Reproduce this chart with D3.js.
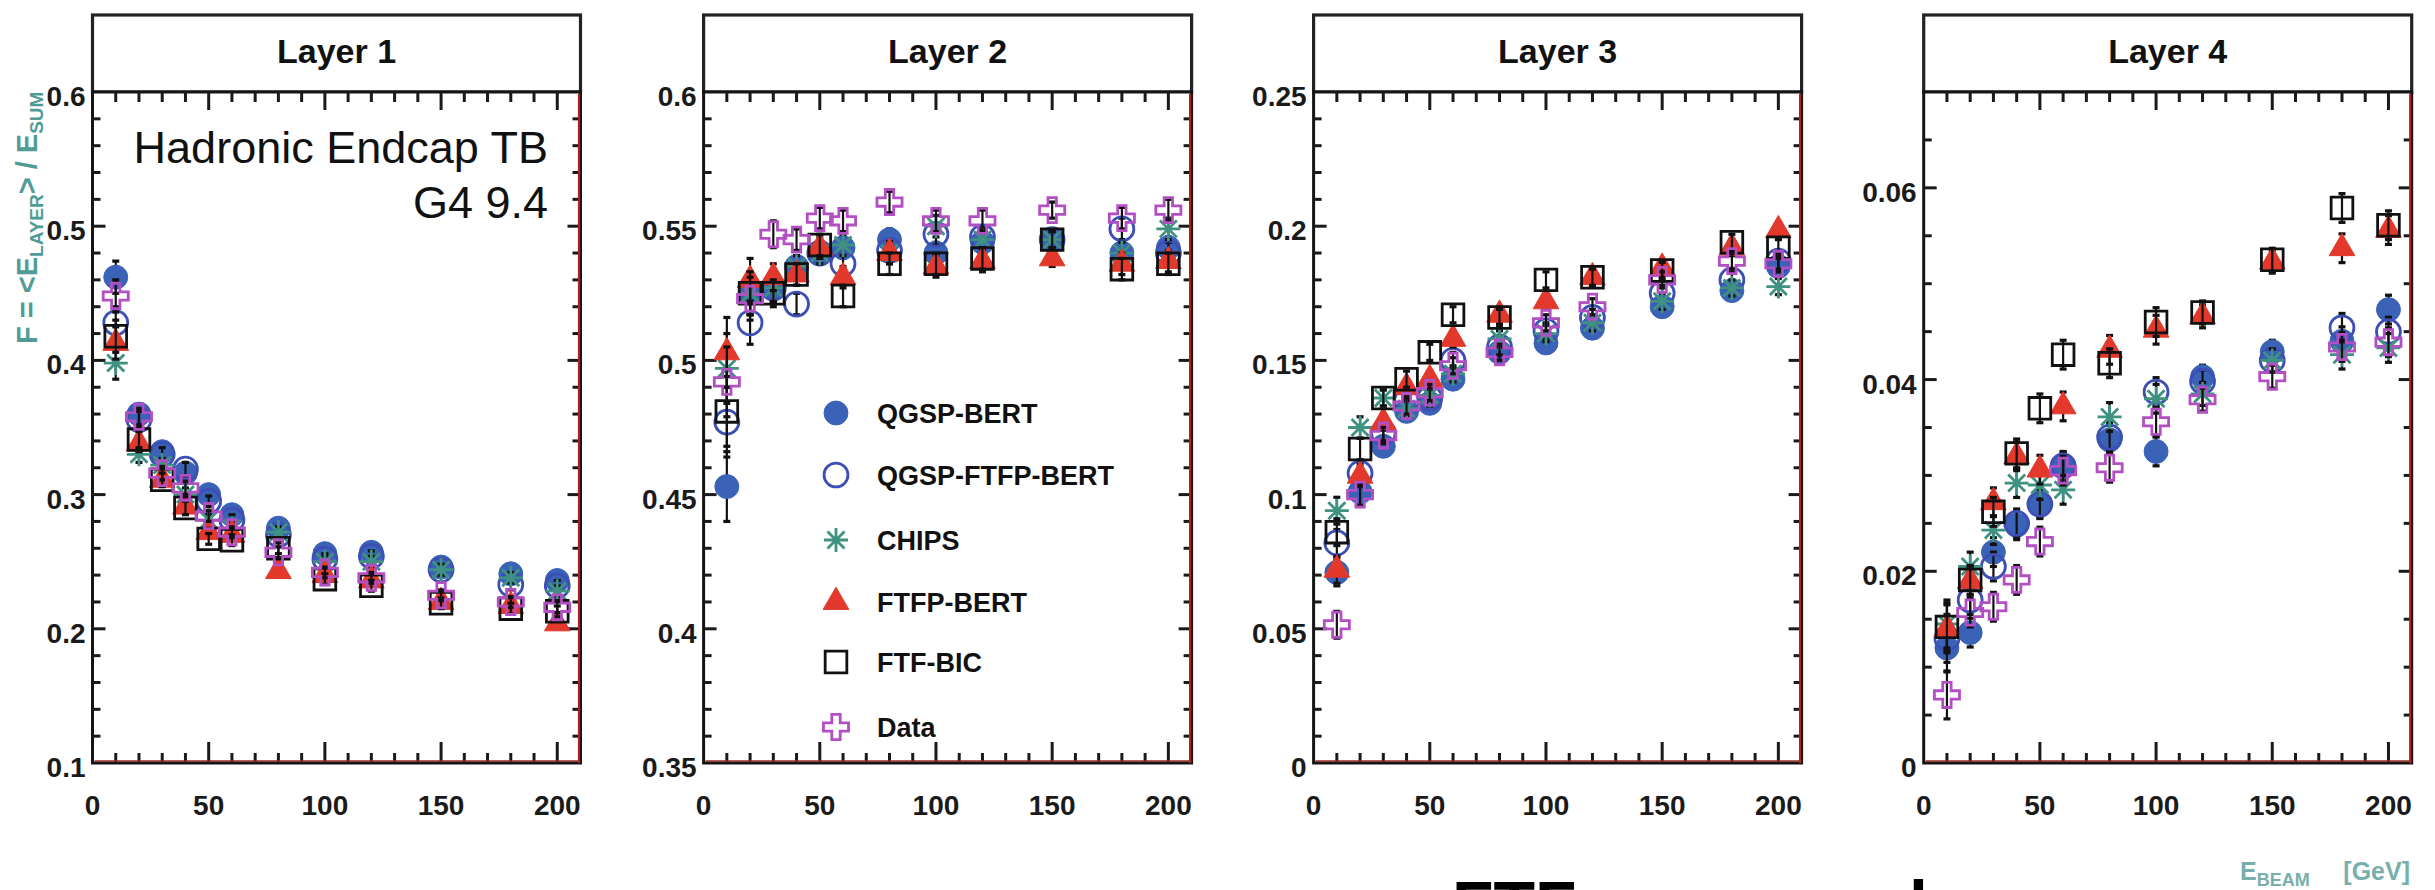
<!DOCTYPE html>
<html>
<head>
<meta charset="utf-8">
<script src="https://cdn.jsdelivr.net/npm/d3@7"></script>
<style>
  html, body { margin: 0; padding: 0; background: #fff; overflow: hidden; }
  svg { display: block; }
  text { font-family: "Liberation Sans", Arial, Helvetica, sans-serif; }
</style>
</head>
<body>
<svg id="chart" width="2435" height="890"></svg>
<script>
// Beam energies (GeV)
const energies = [10, 20, 30, 40, 50, 60, 80, 100, 120, 150, 180, 200];

const layerTitles = ["Layer 1", "Layer 2", "Layer 3", "Layer 4"];
const seriesNames = ["QGSP-BERT", "QGSP-FTFP-BERT", "CHIPS", "FTFP-BERT", "FTF-BIC", "Data"];

// Layer 1 fractions
const layer1QgspBert     = [0.462, 0.360, 0.332, 0.316, 0.300, 0.285, 0.275, 0.256, 0.257, 0.246, 0.241, 0.236];
const layer1QgspFtfpBert = [0.428, 0.356, 0.330, 0.319, 0.295, 0.281, 0.270, 0.252, 0.254, 0.244, 0.233, 0.232];
const layer1Chips        = [0.398, 0.330, 0.322, 0.300, 0.281, 0.275, 0.272, 0.250, 0.250, 0.244, 0.238, 0.228];
const layer1FtfpBert     = [0.413, 0.338, 0.311, 0.291, 0.272, 0.270, 0.243, 0.240, 0.236, 0.220, 0.217, 0.204];
const layer1FtfBic       = [0.418, 0.341, 0.311, 0.290, 0.267, 0.266, 0.260, 0.237, 0.232, 0.219, 0.215, 0.213];
const layer1Data         = [0.448, 0.358, 0.316, 0.305, 0.284, 0.272, 0.257, 0.242, 0.238, 0.225, 0.220, 0.216];
const layer1Errors       = [0.012, 0.006, 0.005, 0.005, 0.004, 0.004, 0.004, 0.004, 0.004, 0.004, 0.004, 0.004];

// Layer 2 fractions
const layer2QgspBert     = [0.453, 0.525, 0.527, 0.535, 0.540, 0.542, 0.545, 0.540, 0.544, 0.545, 0.540, 0.542];
const layer2QgspFtfpBert = [0.477, 0.514, 0.527, 0.521, 0.540, 0.536, 0.541, 0.547, 0.546, 0.545, 0.549, 0.540];
const layer2Chips        = [0.497, 0.525, 0.527, 0.535, 0.540, 0.543, 0.540, 0.550, 0.545, 0.545, 0.540, 0.549];
const layer2FtfpBert     = [0.503, 0.530, 0.531, 0.532, 0.542, 0.531, 0.540, 0.535, 0.537, 0.538, 0.536, 0.537];
const layer2FtfBic       = [0.481, 0.525, 0.525, 0.532, 0.543, 0.524, 0.536, 0.536, 0.538, 0.545, 0.534, 0.536];
const layer2Data         = [0.492, 0.523, 0.547, 0.545, 0.553, 0.552, 0.559, 0.552, 0.552, 0.556, 0.553, 0.556];
const layer2Errors       = [0.013, 0.008, 0.005, 0.004, 0.004, 0.004, 0.004, 0.004, 0.004, 0.003, 0.004, 0.004];

// Layer 3 fractions
const layer3QgspBert     = [0.071, 0.101, 0.118, 0.131, 0.134, 0.143, 0.153, 0.1565, 0.162, 0.170, 0.176, 0.185];
const layer3QgspFtfpBert = [0.082, 0.108, 0.123, 0.135, 0.136, 0.150, 0.155, 0.161, 0.166, 0.175, 0.180, 0.187];
const layer3Chips        = [0.094, 0.125, 0.136, 0.132, 0.137, 0.145, 0.158, 0.160, 0.164, 0.172, 0.177, 0.1775];
const layer3FtfpBert     = [0.072, 0.107, 0.127, 0.140, 0.143, 0.158, 0.167, 0.172, 0.181, 0.1845, 0.192, 0.1985];
const layer3FtfBic       = [0.086, 0.117, 0.136, 0.143, 0.153, 0.167, 0.166, 0.180, 0.181, 0.1835, 0.194, 0.192];
const layer3Data         = [0.0515, 0.100, 0.122, 0.133, 0.138, 0.148, 0.153, 0.164, 0.170, 0.180, 0.187, 0.186];
const layer3Errors       = [0.005, 0.004, 0.003, 0.003, 0.003, 0.003, 0.003, 0.003, 0.003, 0.003, 0.003, 0.003];

// Layer 4 fractions
const layer4QgspBert     = [0.0120, 0.0136, 0.0220, 0.0248, 0.0271, 0.0309, 0.0337, 0.0325, 0.0403, 0.0429, 0.0440, 0.0473];
const layer4QgspFtfpBert = [0.0130, 0.0170, 0.0205, 0.0250, 0.0270, 0.0310, 0.0340, 0.0387, 0.0398, 0.0420, 0.0454, 0.0450];
const layer4Chips        = [0.0145, 0.0205, 0.0243, 0.0292, 0.0290, 0.0285, 0.0361, 0.0380, 0.0385, 0.0420, 0.0426, 0.0433];
const layer4FtfpBert     = [0.0140, 0.0190, 0.0272, 0.0320, 0.0306, 0.0372, 0.0431, 0.0452, 0.0466, 0.0523, 0.0537, 0.0556];
const layer4FtfBic       = [0.0142, 0.0191, 0.0262, 0.0323, 0.0370, 0.0426, 0.0417, 0.0460, 0.0470, 0.0525, 0.0579, 0.0561];
const layer4Data         = [0.0071, 0.0157, 0.0163, 0.0191, 0.0231, 0.0305, 0.0308, 0.0356, 0.0379, 0.0403, 0.0434, 0.0439];
const layer4Errors       = [0.0025, 0.0015, 0.0015, 0.0015, 0.0015, 0.0015, 0.0015, 0.0015, 0.0012, 0.0012, 0.0015, 0.0015];

// Axis ranges and tick labels
const xDomain = [0, 210];
const xMajorTicks = [0, 50, 100, 150, 200];
const xTickLabels = ["0", "50", "100", "150", "200"];

const yDomains = [[0.1, 0.6], [0.35, 0.6], [0, 0.25], [0, 0.07]];
const yMinorSteps = [0.02, 0.01, 0.01, 0.005];
const layer1YTicks = [0.1, 0.2, 0.3, 0.4, 0.5, 0.6];
const layer1YLabels = ["0.1", "0.2", "0.3", "0.4", "0.5", "0.6"];
const layer2YTicks = [0.35, 0.4, 0.45, 0.5, 0.55, 0.6];
const layer2YLabels = ["0.35", "0.4", "0.45", "0.5", "0.55", "0.6"];
const layer3YTicks = [0, 0.05, 0.1, 0.15, 0.2, 0.25];
const layer3YLabels = ["0", "0.05", "0.1", "0.15", "0.2", "0.25"];
const layer4YTicks = [0, 0.02, 0.04, 0.06];
const layer4YLabels = ["0", "0.02", "0.04", "0.06"];

const layers = [
  { title: layerTitles[0], domain: yDomains[0], minor: yMinorSteps[0], ticks: layer1YTicks, labels: layer1YLabels, errors: layer1Errors,
    series: [layer1QgspBert, layer1QgspFtfpBert, layer1Chips, layer1FtfpBert, layer1FtfBic, layer1Data] },
  { title: layerTitles[1], domain: yDomains[1], minor: yMinorSteps[1], ticks: layer2YTicks, labels: layer2YLabels, errors: layer2Errors,
    series: [layer2QgspBert, layer2QgspFtfpBert, layer2Chips, layer2FtfpBert, layer2FtfBic, layer2Data] },
  { title: layerTitles[2], domain: yDomains[2], minor: yMinorSteps[2], ticks: layer3YTicks, labels: layer3YLabels, errors: layer3Errors,
    series: [layer3QgspBert, layer3QgspFtfpBert, layer3Chips, layer3FtfpBert, layer3FtfBic, layer3Data] },
  { title: layerTitles[3], domain: yDomains[3], minor: yMinorSteps[3], ticks: layer4YTicks, labels: layer4YLabels, errors: layer4Errors,
    series: [layer4QgspBert, layer4QgspFtfpBert, layer4Chips, layer4FtfpBert, layer4FtfBic, layer4Data] }
];

// Marker styles per model
const styles = [
  { kind: "circle",   fill: "#3a62b6", stroke: "#3a62b6" },
  { kind: "circle",   fill: "none",    stroke: "#3d4fb4" },
  { kind: "asterisk", fill: "none",    stroke: "#3f9181" },
  { kind: "triangle", fill: "#e2392c", stroke: "#e2392c" },
  { kind: "square",   fill: "none",    stroke: "#111111" },
  { kind: "cross",    fill: "none",    stroke: "#b24fc2" }
];

// Layout
const panelLefts = [92.5, 703.6, 1313.6, 1923.7];
const panelWidth = 488;
const plotTop = 92, plotBottom = 763, titleTop = 15;

const svg = d3.select("#chart");
svg.append("rect").attr("width", 2435).attr("height", 890).attr("fill", "#fff");

function markerPath(kind) {
  if (kind === "circle") return d3.symbol(d3.symbolCircle, 450)();
  if (kind === "triangle") return d3.symbol(d3.symbolTriangle, 285)();
  if (kind === "square") return d3.symbol(d3.symbolSquare, 470)();
  if (kind === "cross") return d3.symbol(d3.symbolCross, 350)();
  // eight-armed star
  const r = 12, d = 8.5;
  return `M${-r},0L${r},0M0,${-r}L0,${r}M${-d},${-d}L${d},${d}M${-d},${d}L${d},${-d}`;
}

function drawMarker(g, style, x, y) {
  const sw = style.fill === "none" ? 2.8 : 1;
  g.append("path")
    .attr("d", markerPath(style.kind))
    .attr("transform", `translate(${x},${y})`)
    .attr("fill", style.fill)
    .attr("stroke", style.stroke)
    .attr("stroke-width", sw)
    .attr("stroke-linejoin", "miter");
}

layers.forEach((layer, li) => {
  const left = panelLefts[li];
  const right = left + panelWidth;
  const x = d3.scaleLinear().domain(xDomain).range([left, right]);
  const y = d3.scaleLinear().domain(layer.domain).range([plotBottom, plotTop]);
  const g = svg.append("g");

  // title box
  g.append("rect").attr("x", left).attr("y", titleTop).attr("width", panelWidth).attr("height", plotTop - titleTop)
    .attr("fill", "#fff").attr("stroke", "#222").attr("stroke-width", 3.2);
  g.append("text").attr("x", (left + right) / 2).attr("y", 63).attr("text-anchor", "middle")
    .attr("font-size", 34).attr("font-weight", "bold").attr("fill", "#111").text(layer.title);

  // plot frame
  g.append("rect").attr("x", left).attr("y", plotTop).attr("width", panelWidth).attr("height", plotBottom - plotTop)
    .attr("fill", "#fff").attr("stroke", "#151515").attr("stroke-width", 3);

  // x ticks (bottom pointing up, top pointing down)
  const xMinor = d3.range(xDomain[0], xDomain[1], 10).filter(v => v > 0 && !xMajorTicks.includes(v));
  const tickG = g.append("g").attr("stroke", "#1a1a1a").attr("stroke-width", 3);
  xMajorTicks.filter(v => v > 0).forEach(v => {
    tickG.append("line").attr("x1", x(v)).attr("x2", x(v)).attr("y1", plotBottom).attr("y2", plotBottom - 21);
    tickG.append("line").attr("x1", x(v)).attr("x2", x(v)).attr("y1", plotTop).attr("y2", plotTop + 18);
  });
  xMinor.forEach(v => {
    tickG.append("line").attr("x1", x(v)).attr("x2", x(v)).attr("y1", plotBottom).attr("y2", plotBottom - 10);
    tickG.append("line").attr("x1", x(v)).attr("x2", x(v)).attr("y1", plotTop).attr("y2", plotTop + 10);
  });

  // y ticks (left and right, pointing inward)
  const yMinor = d3.range(layer.domain[0], layer.domain[1] + 1e-9, layer.minor)
    .filter(v => !layer.ticks.some(t => Math.abs(t - v) < 1e-9));
  layer.ticks.forEach(v => {
    if (v <= layer.domain[0] + 1e-9 || v >= layer.domain[1] - 1e-9) return;
    tickG.append("line").attr("x1", left).attr("x2", left + 13).attr("y1", y(v)).attr("y2", y(v));
    tickG.append("line").attr("x1", right).attr("x2", right - 13).attr("y1", y(v)).attr("y2", y(v));
  });
  yMinor.forEach(v => {
    if (v <= layer.domain[0] + 1e-9 || v >= layer.domain[1] - 1e-9) return;
    tickG.append("line").attr("x1", left).attr("x2", left + 8).attr("y1", y(v)).attr("y2", y(v));
    tickG.append("line").attr("x1", right).attr("x2", right - 8).attr("y1", y(v)).attr("y2", y(v));
  });

  // red inner edge on right and bottom
  g.append("line").attr("x1", right - 1.5).attr("x2", right - 1.5).attr("y1", plotTop + 2).attr("y2", plotBottom)
    .attr("stroke", "#b3201c").attr("stroke-width", 2.2);
  g.append("line").attr("x1", left + 2).attr("x2", right).attr("y1", plotBottom - 2).attr("y2", plotBottom - 2)
    .attr("stroke", "#9a2a22").attr("stroke-width", 1.6);

  // tick labels
  xMajorTicks.forEach((v, i) => {
    g.append("text").attr("x", x(v)).attr("y", 815).attr("text-anchor", "middle")
      .attr("font-size", 28).attr("font-weight", "bold").attr("fill", "#1a1a1a").text(xTickLabels[i]);
  });
  layer.ticks.forEach((v, i) => {
    g.append("text").attr("x", left - 7).attr("y", y(v) + 14).attr("text-anchor", "end")
      .attr("font-size", 28).attr("font-weight", "bold").attr("fill", "#1a1a1a").text(layer.labels[i]);
  });

  // data: error bars then markers, series by series
  layer.series.forEach((vals, si) => {
    const sg = g.append("g");
    vals.forEach((v, k) => {
      const e = layer.errors[k];
      const cx = x(energies[k]);
      sg.append("line").attr("x1", cx).attr("x2", cx).attr("y1", y(v - e)).attr("y2", y(v + e))
        .attr("stroke", "#111").attr("stroke-width", 2.2);
      [v - e, v + e].forEach(w => {
        sg.append("line").attr("x1", cx - 3.5).attr("x2", cx + 3.5).attr("y1", y(w)).attr("y2", y(w))
          .attr("stroke", "#111").attr("stroke-width", 3.2);
      });
    });
    vals.forEach((v, k) => drawMarker(sg, styles[si], x(energies[k]), y(v)));
  });
});

// annotation in first panel
svg.append("text").attr("x", 548).attr("y", 163).attr("text-anchor", "end")
  .attr("font-size", 45).attr("fill", "#111").text("Hadronic Endcap TB");
svg.append("text").attr("x", 548).attr("y", 218).attr("text-anchor", "end")
  .attr("font-size", 45).attr("fill", "#111").text("G4 9.4");

// legend in second panel
const legendX = 836, legendLabelX = 877;
const legendRows = [413, 475, 540, 602, 662, 727];
seriesNames.forEach((name, i) => {
  drawMarker(svg, styles[i], legendX, legendRows[i]);
  svg.append("text").attr("x", legendLabelX).attr("y", legendRows[i] + 10)
    .attr("font-size", 27).attr("font-weight", "bold").attr("fill", "#111").text(name);
});

// axis titles
const yTitle = svg.append("text").attr("transform", "translate(37,344) rotate(-90)")
  .attr("font-size", 29).attr("font-weight", "bold").attr("fill", "#4f9c96");
yTitle.append("tspan").text("F = <E");
yTitle.append("tspan").attr("font-size", 19).attr("dy", 6).text("LAYER");
yTitle.append("tspan").attr("dy", -6).text("> / E");
yTitle.append("tspan").attr("font-size", 19).attr("dy", 6).text("SUM");

const xTitle = svg.append("text").attr("x", 2240).attr("y", 880)
  .attr("font-size", 25).attr("font-weight", "bold").attr("fill", "#78afab");
xTitle.append("tspan").text("E");
xTitle.append("tspan").attr("font-size", 18).attr("dy", 6).text("BEAM");
svg.append("text").attr("x", 2410).attr("y", 880).attr("text-anchor", "end")
  .attr("font-size", 25).attr("font-weight", "bold").attr("fill", "#78afab").text("[GeV]");

// large slide text cut by the lower edge
svg.append("text").attr("x", 1452).attr("y", 929)
  .attr("font-size", 68).attr("font-weight", "bold").attr("fill", "#000").text("FTF");
svg.append("text").attr("x", 1909).attr("y", 929)
  .attr("font-size", 68).attr("font-weight", "bold").attr("fill", "#000").text("l");
</script>
</body>
</html>
